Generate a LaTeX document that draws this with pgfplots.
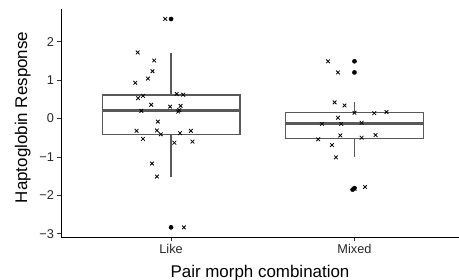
\documentclass[border=0pt]{standalone}
\usepackage{fontspec}
\setmainfont{Liberation Sans}
\usepackage{pgfplots}
\pgfplotsset{compat=1.18}
\usepgfplotslibrary{statistics}
\definecolor{boxcol}{RGB}{89,89,89}
\begin{document}
\begin{tikzpicture}
\begin{axis}[
  scale only axis,
  width=398bp, height=228.7bp,
  xmin=0.4, xmax=2.57,
  ymin=-3.10, ymax=2.85,
  axis lines*=left,
  axis line style={black, line width=1pt},
  xtick={1,2}, xticklabels={Like,Mixed},
  ytick={-3,-2,-1,0,1,2},
  yticklabels={−3,−2,−1,0,1,2},
  tick align=outside,
  major tick length=3.5bp,
  tick style={black!80, line width=0.9pt},
  ticklabel style={font=\fontsize{12.8}{14}\selectfont, text=black!85},
  xlabel={Pair morph combination},
  ylabel={Haptoglobin Response},
  label style={font=\fontsize{17}{20}\selectfont},
  xlabel style={at={(rel axis cs:0.5,-0.1732)}, anchor=base},
  ylabel style={at={(rel axis cs:-0.0854,0.526)}, anchor=base},
  boxplot/draw direction=y,
  boxplot/every box/.style={draw=boxcol, line width=1.4pt, fill=white},
  boxplot/every whisker/.style={draw=boxcol, line width=1.4pt},
  boxplot/every median/.style={draw=boxcol, line width=3pt},
  clip=false,
]
\addplot[boxcol, line width=1.4pt,
  boxplot prepared={draw position=1, median=0.20, upper quartile=0.61,
    lower quartile=-0.41, upper whisker=1.71, lower whisker=-1.51,
    box extend=0.75, whisker extend=0}] coordinates {};
\addplot[boxcol, line width=1.4pt,
  boxplot prepared={draw position=2, median=-0.14, upper quartile=0.16,
    lower quartile=-0.52, upper whisker=0.42, lower whisker=-0.99,
    box extend=0.75, whisker extend=0}] coordinates {};
% outliers
\addplot[only marks, mark=*, mark size=2.1pt, black] coordinates {
  (1,2.59) (1,-2.83) (2,1.49) (2,1.20) (2,-1.81) (1.99,-1.85)};
% jittered points
\addplot[only marks, mark=x, mark size=2.6pt, black, mark options={line width=0.8pt}] coordinates {
  (0.818,1.72) (0.908,1.51) (0.899,1.23) (0.874,1.04) (0.805,0.93)
  (0.847,0.59) (0.820,0.53) (0.892,0.36) (0.995,0.31) (1.052,0.33)
  (1.045,0.22) (1.039,0.18) (0.838,0.20) (0.928,-0.08) (0.812,-0.32)
  (0.923,-0.31) (0.944,-0.41) (0.847,-0.53) (0.896,-1.17) (0.923,-1.51)
  (1.031,0.64) (1.066,0.62) (1.049,-0.38) (1.108,-0.32) (1.018,-0.63)
  (1.117,-0.60) (0.968,2.59) (1.070,-2.83)
  (1.856,1.49) (1.910,1.20) (1.892,0.42) (1.946,0.34) (2.0,0.15)
  (2.108,0.14) (2.175,0.17) (1.910,0.02) (1.823,-0.14) (1.928,-0.14)
  (2.039,-0.11) (1.802,-0.54) (1.923,-0.44) (2.039,-0.50) (2.115,-0.43)
  (1.877,-0.69) (1.899,-1.01) (2.058,-1.78) (2.0,-1.83)
};
\end{axis}
\pgfresetboundingbox
\path ([shift={(-61bp,-42.3bp)}]current axis.south west) rectangle ([shift={(0bp,9bp)}]current axis.north east);
\end{tikzpicture}
\end{document}
